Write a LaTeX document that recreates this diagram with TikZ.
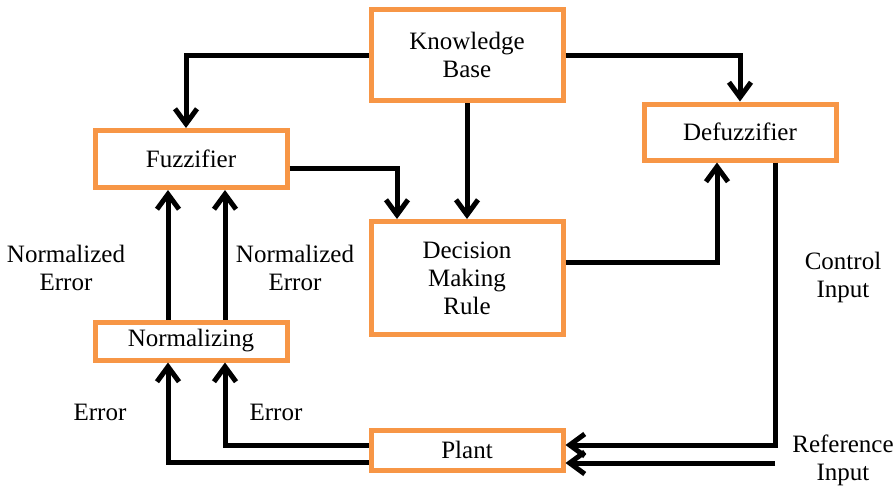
\documentclass[tikz,border=0pt]{standalone}
\usepackage{fontspec}
\setmainfont{Liberation Serif}
\usetikzlibrary{positioning,arrows.meta,calc}
\definecolor{FCOrange}{HTML}{F79646}

\begin{document}
\begin{tikzpicture}[
    x=0.5pt, y=-0.5pt,
    block/.style={
      draw=FCOrange,
      fill=white,
      line width=2.5pt,
      minimum width=96pt,
      inner sep=0pt,
      align=center,
      font=\fontsize{12.5}{14}\selectfont
    },
    lbl/.style={
      align=center,
      inner sep=0pt,
      font=\fontsize{12.5}{14}\selectfont
    },
    arrow/.style={
      -{Straight Barb[length=7.5pt,width=11pt]},
      line width=2.5pt,
      black
    }
  ]
  \useasboundingbox (0,0) rectangle (896,489);

  % blocks
  \node[block, minimum height=45.5pt] (kbase) at (467,55) {Knowledge\\Base};
  \node[block, minimum height=28.5pt] (fuzz) at (191,159) {Fuzzifier};
  \node[block, minimum height=28pt] (defuzz) at (740,132) {Defuzzifier};
  \node[block, minimum height=56.5pt] (rule) at (467,278) {Decision\\Making\\Rule};
  \node[block, minimum height=19pt] (norm) at (191,341) {Normalizing};
  \node[block, minimum height=20pt] (plant) at (467,450) {Plant};

  % labels
  \node[lbl] (nerrl) at (66,268) {Normalized\\Error};
  \node[lbl] (nerrr) at (295,268) {Normalized\\Error};
  \node[lbl] (ctrlin) at (843,277) {Control\\Input};
  \node[lbl] (refinput) at (843,460) {Reference\\Input};
  \node[lbl] (errl) at (100,412) {Error};
  \node[lbl] (errr) at (276,412) {Error};

  \coordinate (refin) at (775,463);

  % knowledge base to the rule blocks
  \draw[arrow] (kbase.west) -| ($(fuzz.north)+(-5,0)$);
  \draw[arrow] (kbase.east) -| (defuzz.north);
  \draw[arrow] (kbase.south) -- (rule.north);

  % main chain
  \draw[arrow] ($(fuzz.east)+(0,9)$) -| ($(rule.north)+(-70,0)$);
  \draw[arrow] ($(rule.east)+(0,-16)$) -| ($(defuzz.south)+(-23,0)$);
  \draw[arrow] ($(defuzz.south)+(35,0)$) |- ($(plant.east)+(0,-5)$);
  \draw[arrow] (refin) -- (refin -| plant.east);

  % feedback through normalizing
  \draw[arrow] ($(plant.west)+(0,-5)$) -| ($(norm.south)+(34,0)$);
  \draw[arrow] ($(plant.west)+(0,12)$) -| ($(norm.south)+(-23,0)$);
  \draw[arrow] ($(norm.north)+(-23,0)$) -- ($(fuzz.south)+(-23,0)$);
  \draw[arrow] ($(norm.north)+(34,0)$) -- ($(fuzz.south)+(34,0)$);

\end{tikzpicture}
\end{document}
